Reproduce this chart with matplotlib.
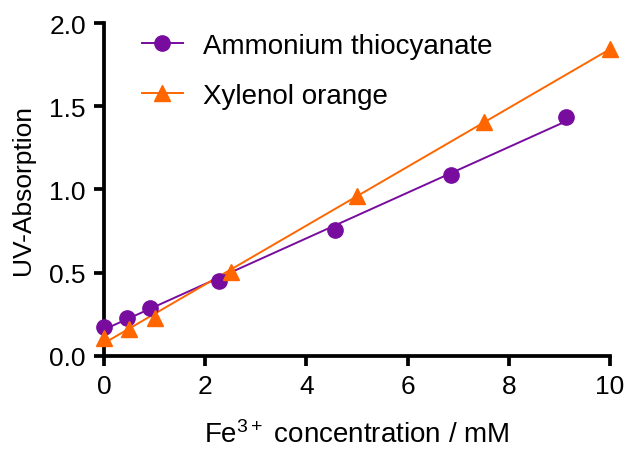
import numpy as np
import matplotlib.pyplot as plt

plt.rcParams['font.family'] = ['Liberation Sans', 'DejaVu Sans']
plt.rcParams['mathtext.fontset'] = 'custom'
plt.rcParams['mathtext.rm'] = 'Liberation Sans'
plt.rcParams['mathtext.it'] = 'Liberation Sans'

# Ammonium thiocyanate
amm_x = [0.0, 0.45, 0.91, 2.27, 4.56, 6.86, 9.14]
amm_y = [0.174, 0.228, 0.29, 0.452, 0.759, 1.089, 1.434]

# Xylenol orange
xo_x = [0.0, 0.5, 1.0, 2.5, 5.0, 7.5, 10.0]
xo_y = [0.11, 0.16, 0.23, 0.506, 0.962, 1.405, 1.845]

purple = '#770C9E'
orange = '#FF6600'

fig = plt.figure(figsize=(6.25, 4.52), dpi=100)
ax = fig.add_axes([0.1664, 0.2102, 0.8096, 0.7367])

# lineare Regression fuer beide Reihen
for xs, ys, c, m, ms, lab in [(amm_x, amm_y, purple, 'o', 11, 'Ammonium thiocyanate'),
                              (xo_x, xo_y, orange, '^', 11, 'Xylenol orange')]:
    k, d = np.polyfit(xs, ys, 1)
    xx = np.array([min(xs), max(xs)])
    ax.plot(xx, k * xx + d, color=c, lw=1.4, clip_on=False)
    ax.plot(xs, ys, m, color=c, ms=ms, clip_on=False, zorder=5)
    ax.plot([], [], color=c, lw=1.4, marker=m, ms=ms, label=lab)

ax.set_xlim(0, 10)
ax.set_ylim(0, 2.0)
ax.set_xticks([0, 2, 4, 6, 8, 10])
ax.set_yticks([0, 0.5, 1.0, 1.5, 2.0])
ax.set_yticklabels(['0.0', '0.5', '1.0', '1.5', '2.0'])

for s in ['top', 'right']:
    ax.spines[s].set_visible(False)
for s in ['left', 'bottom']:
    ax.spines[s].set_linewidth(2.7)
    ax.spines[s].set_capstyle('projecting')
ax.tick_params(width=2.7, length=7, labelsize=19, pad=6)

ax.set_xlabel(r'Fe$^{\mathregular{3+}}$ concentration / mM', fontsize=20, labelpad=16)
ax.set_ylabel('UV-Absorption', fontsize=19, labelpad=10)

ax.legend(loc='upper left', bbox_to_anchor=(0.025, 1.045), frameon=False,
          fontsize=20, handlelength=1.5, labelspacing=0.85, handletextpad=0.7)

fig.savefig('out.png', dpi=100)
